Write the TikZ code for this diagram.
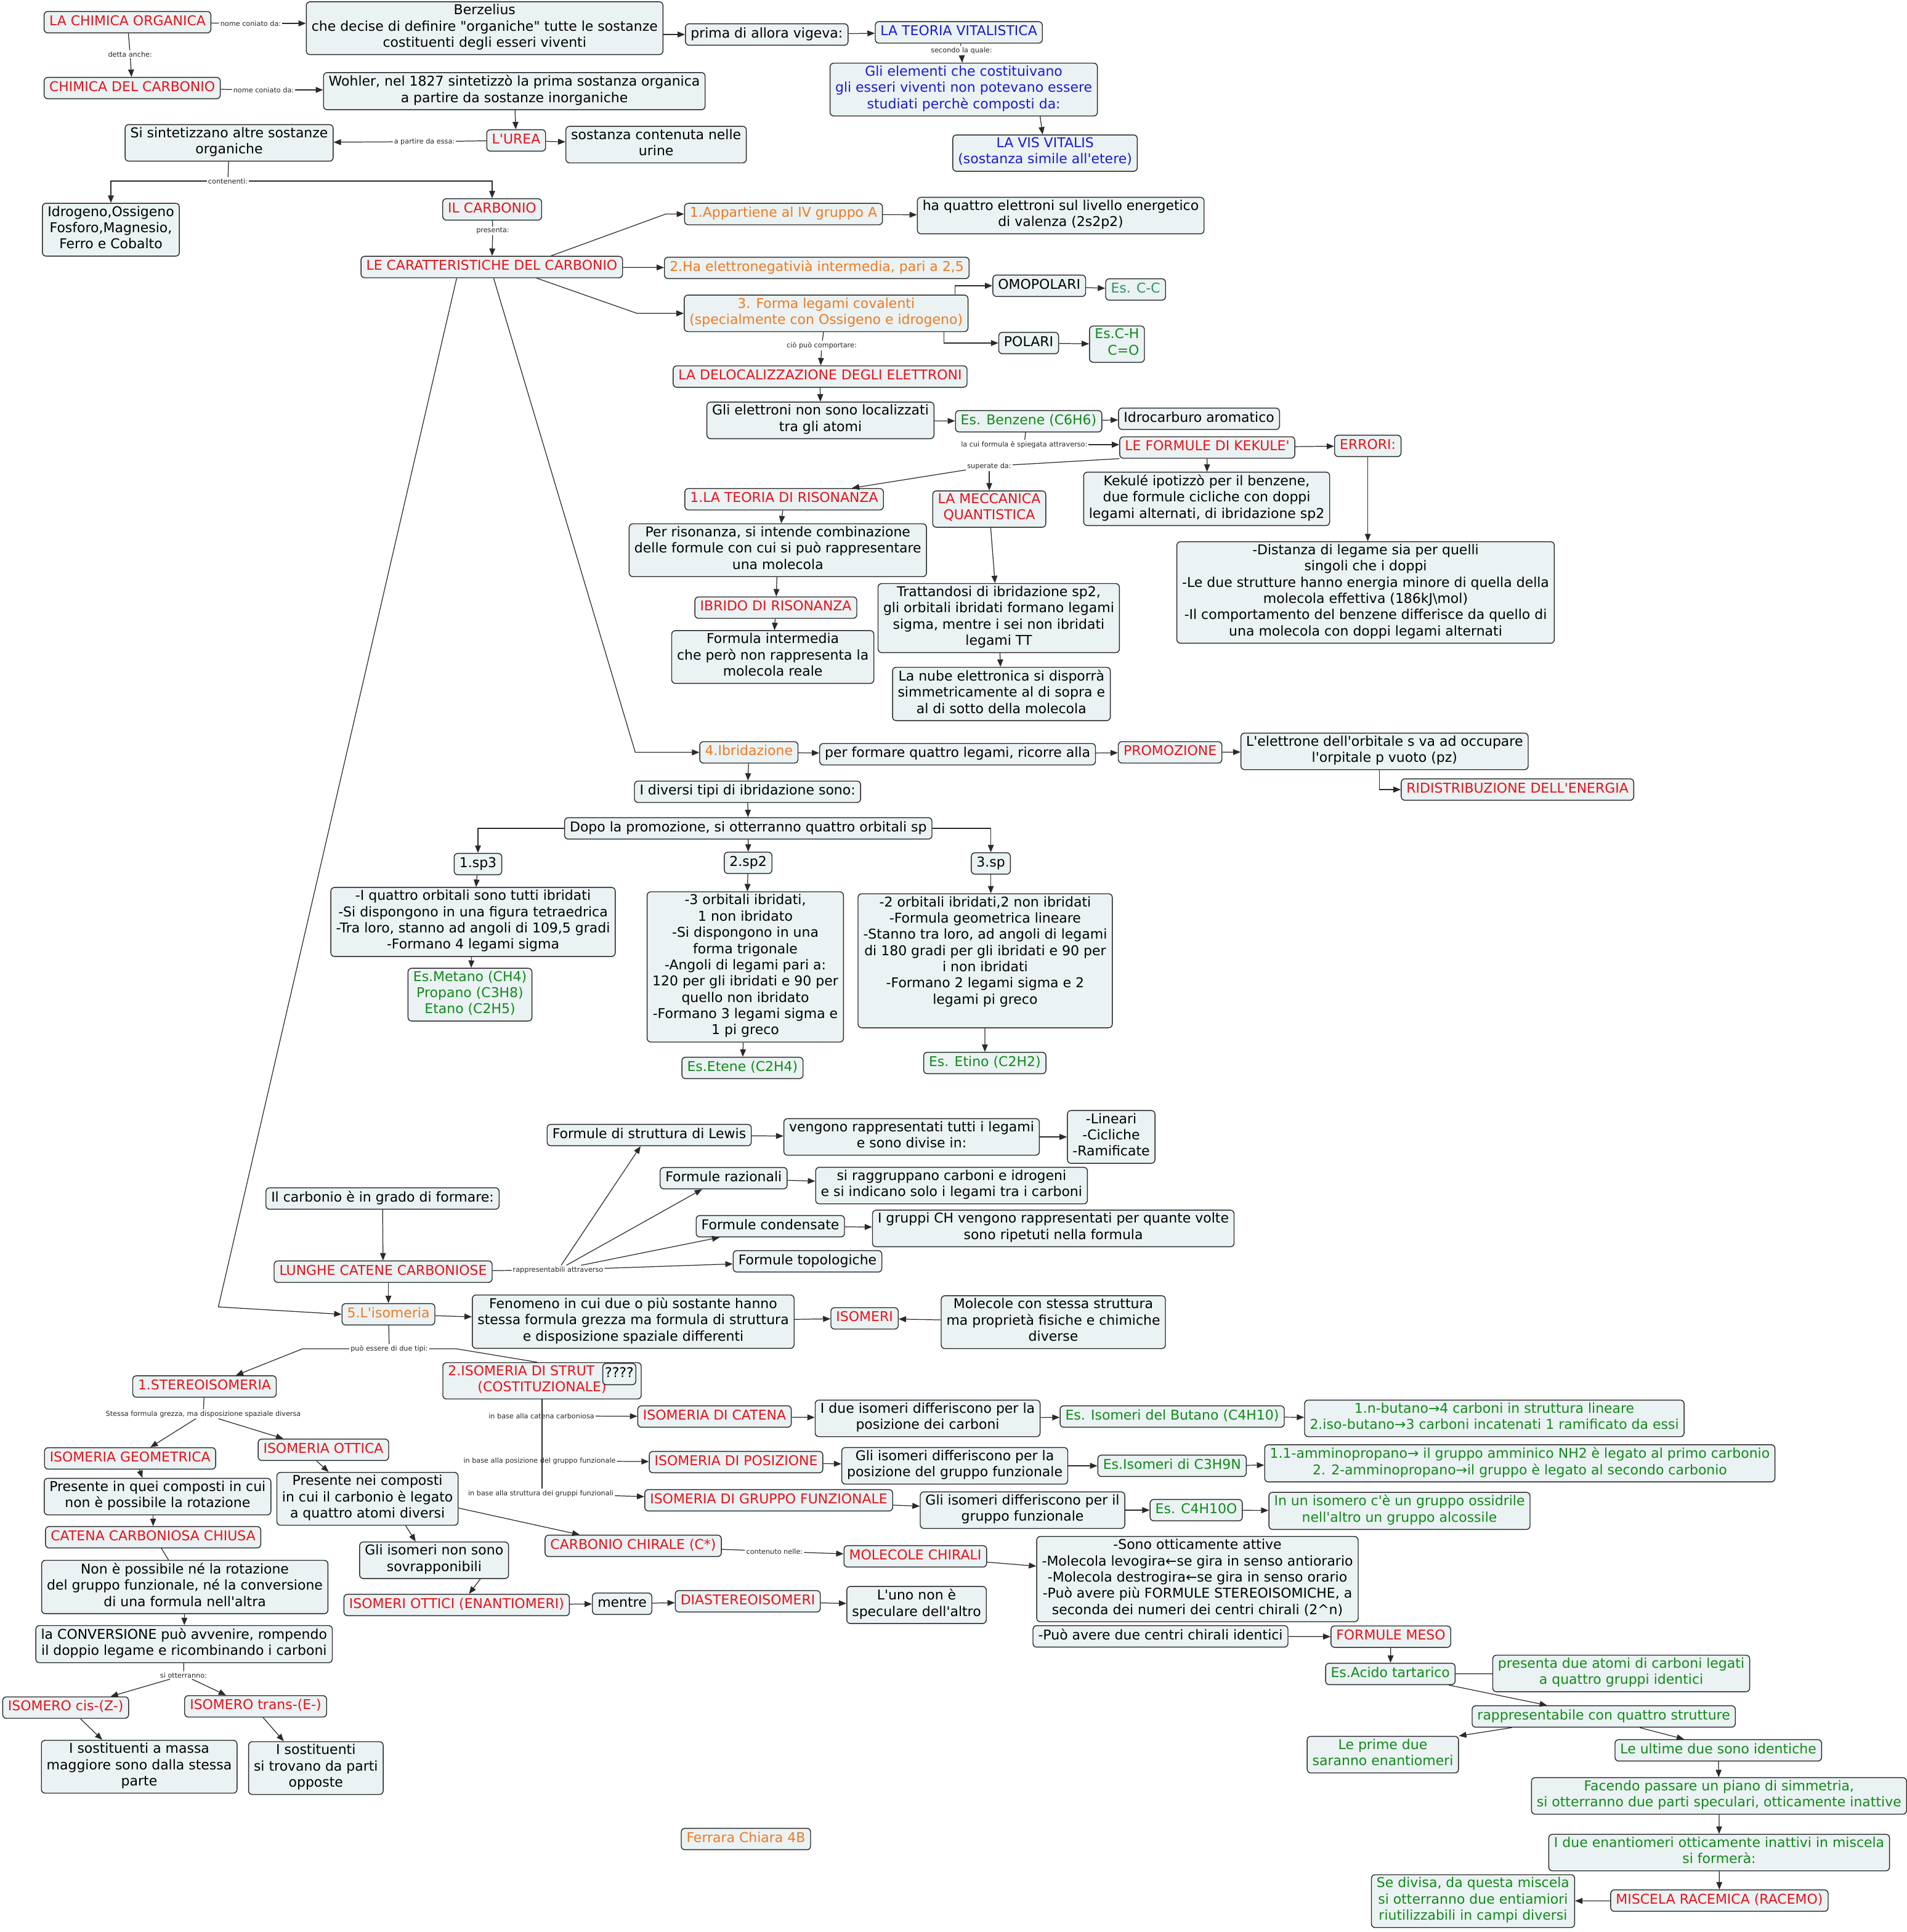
\documentclass[tikz,border=0pt]{standalone}
\usepackage{fontspec}
\setmainfont{DejaVu Sans}
\usetikzlibrary{arrows.meta}

\definecolor{cfill}{HTML}{EBF2F3}
\definecolor{cline}{HTML}{2A2A2A}
\definecolor{cred}{HTML}{E8121A}
\definecolor{corange}{HTML}{EE7A22}
\definecolor{cblue}{HTML}{1A1AD2}
\definecolor{cgreen}{HTML}{118A1A}
\definecolor{cteal}{HTML}{2E9462}
\newcommand*{\apo}{\textquotesingle}

\begin{document}
\begin{tikzpicture}[
  x=0.04cm, y=-0.04cm,
  >={Triangle[length=2.4mm, width=1.9mm]},
  box/.style={draw=cline, fill=cfill, line width=0.8pt, rounded corners=1.2mm,
    align=center, inner xsep=0.17cm, inner ysep=2.4pt,
    font=\fontsize{12.5}{15}\selectfont,
    execute at begin node=\strut, execute at end node=\strut},
  rbox/.style={box, text=cred},
  obox/.style={box, text=corange},
  bbox/.style={box, text=cblue},
  gbox/.style={box, text=cgreen},
  lbl/.style={font=\fontsize{6.4}{7.5}\selectfont, text=black!85, inner sep=1pt},
  cn/.style={draw=cline, line width=0.7pt},
  arr/.style={cn, ->},
  ]
  \useasboundingbox (0,0) rectangle (1547.5,1568.5);

  % origini della chimica organica
  \node[rbox] (chimorg) at (103.5,18) {LA CHIMICA ORGANICA};
  \node[box] (berz) at (393.4,22.9) {Berzelius\\che decise di definire \textquotedbl organiche\textquotedbl{} tutte le sostanze\\costituenti degli esseri viventi};
  \node[box] (prima) at (622.4,28) {prima di allora vigeva:};
  \node[bbox] (teoria) at (778.3,26.3) {LA TEORIA VITALISTICA};
  \node[bbox] (elementi) at (782.3,72.7) {Gli elementi che costituivano\\gli esseri viventi non potevano essere\\studiati perchè composti da:};
  \node[bbox] (vis) at (848.3,124.3) {LA VIS VITALIS\\(sostanza simile all\apo etere)};
  \node[rbox] (chimcarb) at (107.3,71.5) {CHIMICA DEL CARBONIO};
  \node[box] (wohler) at (417.5,74) {Wohler, nel 1827 sintetizzò la prima sostanza organica\\a partire da sostanze inorganiche};
  \node[rbox] (urea) at (419,114) {L\apo UREA};
  \node[box] (urine) at (532.6,117.4) {sostanza contenuta nelle\\urine};
  \node[box] (sintet) at (186,116) {Si sintetizzano altre sostanze\\organiche};
  \node[box] (idrog) at (90,186.5) {Idrogeno,Ossigeno\\Fosforo,Magnesio,\\Ferro e Cobalto};
  \node[rbox] (ilcarb) at (399.5,170) {IL CARBONIO};
  \node[rbox] (caratt) at (399.2,216.8) {LE CARATTERISTICHE DEL CARBONIO};

  % caratteristiche del carbonio
  \node[obox] (app) at (636,173.8) {1.Appartiene al IV gruppo A};
  \node[box] (quattro) at (861,175) {ha quattro elettroni sul livello energetico\\di valenza (2s2p2)};
  \node[obox] (elettroneg) at (663,217.5) {2.Ha elettronegativià intermedia, pari a 2,5};
  \node[obox] (forma) at (670.6,254.4) {3. Forma legami covalenti\\(specialmente con Ossigeno e idrogeno)};
  \node[box] (omop) at (843.6,232) {OMOPOLARI};
  \node[box, text=cteal] (escc) at (921.8,235) {Es. C-C};
  \node[box] (polari) at (835,278.5) {POLARI};
  \node[gbox, align=right] (esch) at (906.7,279.4) {Es.C-H\\C=O};
  \node[rbox] (deloc) at (665.7,305.7) {LA DELOCALIZZAZIONE DEGLI ELETTRONI};
  \node[box] (gliel) at (666,341.3) {Gli elettroni non sono localizzati\\tra gli atomi};
  \node[gbox] (benz) at (835,342) {Es. Benzene (C6H6)};
  \node[box] (idroc) at (973.3,340) {Idrocarburo aromatico};
  \node[rbox] (kekule) at (980,363.3) {LE FORMULE DI KEKULE\apo};
  \node[rbox] (errori) at (1110.3,362) {ERRORI:};
  \node[box] (kekipot) at (979.5,405) {Kekulé ipotizzò per il benzene,\\due formule cicliche con doppi\\legami alternati, di ibridazione sp2};
  \node[box] (distanza) at (1108.5,481) {-Distanza di legame sia per quelli\\singoli che i doppi\\-Le due strutture hanno energia minore di quella della\\molecola effettiva (186kJ\textbackslash mol)\\-Il comportamento del benzene differisce da quello di\\una molecola con doppi legami alternati};
  \node[rbox] (risonanza) at (636.5,405.3) {1.LA TEORIA DI RISONANZA};
  \node[rbox] (meccanica) at (803,413.3) {LA MECCANICA\\QUANTISTICA};
  \node[box] (perrison) at (631.4,446.7) {Per risonanza, si intende combinazione\\delle formule con cui si può rappresentare\\una molecola};
  \node[rbox] (ibrido) at (629.8,493.3) {IBRIDO DI RISONANZA};
  \node[box] (formint) at (627.3,533.4) {Formula intermedia\\che però non rappresenta la\\molecola reale};
  \node[box] (trattandosi) at (810.7,501.8) {Trattandosi di ibridazione sp2,\\gli orbitali ibridati formano legami\\sigma, mentre i sei non ibridati\\legami TT};
  \node[box] (nube) at (812.9,563.4) {La nube elettronica si disporrà\\simmetricamente al di sopra e\\al di sotto della molecola};

  % ibridazione
  \node[obox] (ibridazione) at (607.9,610.8) {4.Ibridazione};
  \node[box] (performare) at (777.3,612.3) {per formare quattro legami, ricorre alla};
  \node[rbox] (promozione) at (949.8,610.8) {PROMOZIONE};
  \node[box] (lelettrone) at (1123.9,610) {L\apo elettrone dell\apo orbitale s va ad occupare\\l\apo orpitale p vuoto (pz)};
  \node[rbox] (ridistr) at (1231.8,641) {RIDISTRIBUZIONE DELL\apo ENERGIA};
  \node[box] (diversi) at (606.8,642.8) {I diversi tipi di ibridazione sono:};
  \node[box] (dopo) at (607.4,672.5) {Dopo la promozione, si otterranno quattro orbitali sp};
  \node[box] (sp3) at (388,701.5) {1.sp3};
  \node[box] (sp2) at (607.3,700.5) {2.sp2};
  \node[box] (sp) at (804.3,701) {3.sp};
  \node[box] (sp3txt) at (384,748.5) {-I quattro orbitali sono tutti ibridati\\-Si dispongono in una figura tetraedrica\\-Tra loro, stanno ad angoli di 109,5 gradi\\-Formano 4 legami sigma};
  \node[gbox] (metano) at (381.5,807.5) {Es.Metano (CH4)\\Propano (C3H8)\\Etano (C2H5)};
  \node[box] (sp2txt) at (605,785) {-3 orbitali ibridati,\\1 non ibridato\\-Si dispongono in una\\forma trigonale\\-Angoli di legami pari a:\\120 per gli ibridati e 90 per\\quello non ibridato\\-Formano 3 legami sigma e\\1 pi greco};
  \node[gbox] (etene) at (602.7,867) {Es.Etene (C2H4)};
  \node[box] (sptxt) at (799.7,780) {-2 orbitali ibridati,2 non ibridati\\-Formula geometrica lineare\\-Stanno tra loro, ad angoli di legami\\di 180 gradi per gli ibridati e 90 per\\i non ibridati\\-Formano 2 legami sigma e 2\\legami pi greco\\ ~};
  \node[gbox] (etino) at (799.4,863) {Es. Etino (C2H2)};

  % formule e isomeria
  \node[box] (carbgrado) at (310.5,973) {Il carbonio è in grado di formare:};
  \node[rbox] (lunghe) at (311,1032.4) {LUNGHE CATENE CARBONIOSE};
  \node[box] (lewis) at (527,921.5) {Formule di struttura di Lewis};
  \node[box] (vengono) at (740,923) {vengono rappresentati tutti i legami\\e sono divise in:};
  \node[box] (lineari) at (902,923) {-Lineari\\-Cicliche\\-Ramificate};
  \node[box] (razionali) at (587.4,956.5) {Formule razionali};
  \node[box] (siragg) at (772.4,962.5) {si raggruppano carboni e idrogeni\\e si indicano solo i legami tra i carboni};
  \node[box] (condensate) at (625.3,995.5) {Formule condensate};
  \node[box] (gruppiCH) at (855,997.3) {I gruppi CH vengono rappresentati per quante volte\\sono ripetuti nella formula};
  \node[box] (topologiche) at (655.5,1024) {Formule topologiche};
  \node[obox] (isomeria) at (315.3,1067) {5.L\apo isomeria};
  \node[box] (fenomeno) at (514,1073) {Fenomeno in cui due o più sostante hanno\\stessa formula grezza ma formula di struttura\\e disposizione spaziale differenti};
  \node[rbox] (isomeri) at (701.8,1070.3) {ISOMERI};
  \node[box] (molecole) at (855,1073.4) {Molecole con stessa struttura\\ma proprietà fisiche e chimiche\\diverse};

  % stereoisomeria
  \node[rbox] (stereo) at (166,1125.6) {1.STEREOISOMERIA};
  \node[rbox] (geometrica) at (105.6,1184) {ISOMERIA GEOMETRICA};
  \node[rbox] (ottica) at (262.5,1177) {ISOMERIA OTTICA};
  \node[box] (presquei) at (127.9,1215) {Presente in quei composti in cui\\non è possibile la rotazione};
  \node[box] (presnei) at (298.3,1216.8) {Presente nei composti\\in cui il carbonio è legato\\a quattro atomi diversi};
  \node[rbox] (catena) at (124.3,1248) {CATENA CARBONIOSA CHIUSA};
  \node[box] (nonposs) at (150,1288.4) {Non è possibile né la rotazione\\del gruppo funzionale, né la conversione\\di una formula nell\apo altra};
  \node[box] (conversione) at (149.4,1334.8) {la CONVERSIONE può avvenire, rompendo\\il doppio legame e ricombinando i carboni};
  \node[rbox] (cis) at (53.3,1386.3) {ISOMERO cis-(Z-)};
  \node[rbox] (trans) at (207.5,1385.3) {ISOMERO trans-(E-)};
  \node[box] (massa) at (113,1434.3) {I sostituenti a massa\\maggiore sono dalla stessa\\parte};
  \node[box] (opposte) at (256.4,1435.4) {I sostituenti\\si trovano da parti\\opposte};
  \node[box] (nonsovr) at (352.4,1266.7) {Gli isomeri non sono\\sovrapponibili};
  \node[rbox] (enantiomeri) at (370.7,1303) {ISOMERI OTTICI (ENANTIOMERI)};
  \node[box] (mentre) at (505,1302) {mentre};
  \node[rbox] (diastereo) at (607,1300) {DIASTEREOISOMERI};
  \node[box] (luno) at (744,1303) {L\apo uno non è\\speculare dell\apo altro};
  \node[rbox] (chirale) at (514,1255) {CARBONIO CHIRALE (C*)};
  \node[rbox] (molchirali) at (743,1263.5) {MOLECOLE CHIRALI};
  \node[box] (sonootti) at (972,1282) {-Sono otticamente attive\\-Molecola levogira←se gira in senso antiorario\\-Molecola destrogira←se gira in senso orario\\-Può avere più FORMULE STEREOISOMICHE, a\\seconda dei numeri dei centri chirali (2\textasciicircum n)};
  \node[box] (duecentri) at (942,1328.5) {-Può avere due centri chirali identici};
  \node[rbox] (meso) at (1129,1328.7) {FORMULE MESO};
  \node[gbox] (tartarico) at (1128.6,1359) {Es.Acido tartarico};
  \node[gbox] (presenta) at (1316,1358.6) {presenta due atomi di carboni legati\\a quattro gruppi identici};
  \node[gbox] (rappr4) at (1301.8,1393.5) {rappresentabile con quattro strutture};
  \node[gbox] (primedue) at (1122.5,1424.5) {Le prime due\\saranno enantiomeri};
  \node[gbox] (ultime) at (1394.8,1421) {Le ultime due sono identiche};
  \node[gbox] (facendo) at (1395.4,1458) {Facendo passare un piano di simmetria,\\si otterranno due parti speculari, otticamente inattive};
  \node[gbox] (duenant) at (1395.5,1504) {I due enantiomeri otticamente inattivi in miscela\\si formerà:};
  \node[rbox] (racemica) at (1395.7,1543) {MISCELA RACEMICA (RACEMO)};
  \node[gbox] (sedivisa) at (1195.7,1543.4) {Se divisa, da questa miscela\\si otterranno due entiamiori\\riutilizzabili in campi diversi};

  % isomeria di struttura
  \node[rbox] (strut) at (440,1121) {\makebox[6.1cm][l]{2.ISOMERIA DI STRUT}\\(COSTITUZIONALE)};
  \node[box, inner xsep=2pt] (qq) at (502.7,1115.5) {????};
  \node[rbox] (catenaiso) at (580,1150) {ISOMERIA DI CATENA};
  \node[box] (duecat) at (753,1151.5) {I due isomeri differiscono per la\\posizione dei carboni};
  \node[gbox] (butano) at (951.5,1150) {Es. Isomeri del Butano (C4H10)};
  \node[gbox] (nbutano) at (1213,1151.5) {1.n-butano→4 carboni in struttura lineare\\2.iso-butano→3 carboni incatenati 1 ramificato da essi};
  \node[rbox] (posizione) at (597.5,1187) {ISOMERIA DI POSIZIONE};
  \node[box] (glipos) at (775,1190) {Gli isomeri differiscono per la\\posizione del gruppo funzionale};
  \node[gbox] (c3h9n) at (951.4,1190) {Es.Isomeri di C3H9N};
  \node[gbox] (ammino) at (1233.7,1188) {1.1-amminopropano→ il gruppo amminico NH2 è legato al primo carbonio\\2. 2-amminopropano→il gruppo è legato al secondo carbonio};
  \node[rbox] (funzionale) at (624,1218) {ISOMERIA DI GRUPPO FUNZIONALE};
  \node[box] (glifun) at (830,1226) {Gli isomeri differiscono per il\\gruppo funzionale};
  \node[gbox] (c4h10o) at (971,1226) {Es. C4H10O};
  \node[gbox] (ossidrile) at (1136,1226.6) {In un isomero c\apo è un gruppo ossidrile\\nell\apo altro un gruppo alcossile};

  \node[obox] (firma) at (605.5,1493) {Ferrara Chiara 4B};

  % etichette dei collegamenti
  \node[lbl] (lnc1) at (203.5,19) {nome coniato da:};
  \node[lbl] (lda) at (105.6,44) {detta anche:};
  \node[lbl] (lnc2) at (214,73) {nome coniato da:};
  \node[lbl] (lsec) at (780.5,41) {secondo la quale:};
  \node[lbl] (lpart) at (344.5,115) {a partire da essa:};
  \node[lbl] (lcont) at (185,147) {contenenti:};
  \node[lbl] (lpres) at (400,187.5) {presenta:};
  \node[lbl] (lcio) at (667,280.5) {ciò può comportare:};
  \node[lbl] (lkek) at (831.4,361) {la cui formula è spiegata attraverso:};
  \node[lbl] (lsup) at (803,378.5) {superate da:};
  \node[lbl] (lrap) at (453,1031) {rappresentabili attraverso};
  \node[lbl] (lpuo) at (316,1095) {può essere di due tipi:};
  \node[lbl] (lstes) at (165,1148) {Stessa formula grezza, ma disposizione spaziale diversa};
  \node[lbl] (lsiot) at (149,1360) {si otterranno:};
  \node[lbl] (lbc1) at (439.5,1149.5) {in base alla catena carboniosa};
  \node[lbl] (lbc2) at (438,1186) {in base alla posizione del gruppo funzionale};
  \node[lbl] (lbc3) at (439,1212.5) {in base alla struttura dei gruppi funzionali};
  \node[lbl] (lcnt) at (628.7,1259.5) {contenuto nelle:};

  % collegamenti in alto
  \draw[cn] (chimorg) -- (lnc1);
  \draw[arr] (lnc1) -- (lnc1 -| berz.west);
  \draw[cn] (chimorg) -- (lda);
  \draw[arr] (lda) -- (chimcarb);
  \draw[cn] (chimcarb) -- (lnc2);
  \draw[arr] (lnc2) -- (lnc2 -| wohler.west);
  \draw[arr] (prima.west -| berz.east) -- (prima);
  \draw[arr] (prima) -- (teoria);
  \draw[cn] (teoria) -- (lsec);
  \draw[arr] (lsec) -- (elementi);
  \draw[arr] ([xshift=2.48cm]elementi.south) -- (vis);
  \draw[arr] (wohler) -- (urea);
  \draw[arr] (urea) -- (urine);
  \draw[cn] (urea) -- (lpart);
  \draw[arr] (lpart) -- (sintet);
  \draw[cn] (sintet) -- (lcont);
  \draw[arr] (lcont) -| (idrog);
  \draw[arr] (lcont) -| (ilcarb);
  \draw[cn] (ilcarb) -- (lpres);
  \draw[arr] (lpres) -- (caratt);

  % collegamenti delle caratteristiche
  \draw[arr] ([xshift=1.92cm]caratt.north) -- ([xshift=-0.6cm]app.west) -- (app.west);
  \draw[arr] (app) -- (quattro);
  \draw[arr] (caratt) -- (elettroneg);
  \draw[arr] ([xshift=1.46cm]caratt.south) -- ([xshift=-1.52cm]forma.west) -- (forma.west);
  \draw[arr] ([xshift=0.06cm]caratt.south) -- ([xshift=-2.08cm]ibridazione.west) -- (ibridazione.west);
  \draw[arr] ([xshift=-1.14cm]caratt.south) -- ([xshift=-4cm,yshift=0.24cm]isomeria.west) -- (isomeria.west);
  \draw[arr] ([xshift=-0.44cm]forma.north east) |- (omop.west);
  \draw[arr] (omop) -- (escc);
  \draw[arr] ([xshift=-0.8cm]forma.south east) |- (polari.west);
  \draw[arr] (polari) -- (esch);
  \draw[cn] (forma) -- (lcio);
  \draw[arr] (lcio) -- (deloc);
  \draw[arr] (deloc) -- (gliel);
  \draw[arr] (gliel) -- (benz);
  \draw[arr] (benz) -- (idroc);
  \draw[cn] ([xshift=-0.1cm]benz.south) -- (lkek);
  \draw[arr] (lkek) -- (lkek -| kekule.west);
  \draw[arr] (kekule) -- (errori);
  \draw[arr] (kekule) -- (kekipot);
  \draw[arr] (errori) -- (errori |- distanza.north);
  \draw[cn] (kekule.south west) -- (lsup);
  \draw[arr] (lsup) -- ([xshift=2.2cm]risonanza.north);
  \draw[arr] (lsup) -- (meccanica);
  \draw[arr] (risonanza) -- (perrison);
  \draw[arr] (perrison) -- (ibrido);
  \draw[arr] (ibrido) -- (formint);
  \draw[arr] (meccanica) -- ([xshift=-0.12cm]trattandosi.north);
  \draw[arr] (trattandosi) -- (nube);

  % collegamenti dell'ibridazione
  \draw[arr] (ibridazione) -- (performare);
  \draw[arr] (performare) -- (promozione);
  \draw[arr] (promozione) -- (lelettrone);
  \draw[arr] ([xshift=-0.16cm]lelettrone.south) |- (ridistr.west);
  \draw[arr] (ibridazione) -- (diversi);
  \draw[arr] (diversi) -- (dopo);
  \draw[arr] (dopo) -| (sp3);
  \draw[arr] (dopo) -- (sp2);
  \draw[arr] (dopo) -| (sp);
  \draw[arr] (sp3) -- (sp3txt);
  \draw[arr] (sp3txt) -- (metano);
  \draw[arr] (sp2) -- (sp2txt);
  \draw[arr] (sp2txt) -- (etene);
  \draw[arr] (sp) -- (sp |- sptxt.north);
  \draw[arr] (sptxt) -- (etino);

  % collegamenti delle formule
  \draw[arr] (carbgrado) -- (lunghe);
  \draw[cn] (lunghe) -- (lrap);
  \draw[arr] (lrap) -- ([xshift=-0.28cm]lewis.south);
  \draw[arr] (lrap) -- ([xshift=-0.7cm]razionali.south);
  \draw[arr] (lrap) -- ([xshift=-1.65cm]condensate.south);
  \draw[arr] (lrap) -- (topologiche);
  \draw[arr] (lewis) -- (vengono);
  \draw[arr] (vengono) -- (lineari);
  \draw[arr] (razionali) -- (siragg);
  \draw[arr] (condensate) -- (gruppiCH);
  \draw[arr] (lunghe.south -| isomeria) -- (isomeria);
  \draw[arr] (isomeria) -- (fenomeno);
  \draw[arr] (fenomeno) -- (isomeri);
  \draw[arr] (molecole) -- (isomeri);
  \draw[cn] (isomeria) -- (lpuo);
  \draw[arr] (lpuo.west) -- ++(-38,0) -- ([xshift=1.02cm]stereo.north);
  \draw[cn] (lpuo.east) -- ++(22,0) -- ([xshift=-0.16cm]strut.north);

  % collegamenti della stereoisomeria
  \draw[cn] (stereo) -- (lstes);
  \draw[arr] (lstes) -- ([xshift=0.66cm]geometrica.north);
  \draw[arr] (lstes) -- ([xshift=-1.3cm]ottica.north);
  \draw[arr] ([xshift=0.3cm]geometrica.south) -- ([xshift=-0.49cm]presquei.north);
  \draw[arr] (catena.north |- presquei.south) -- (catena);
  \draw[cn] ([xshift=0.27cm]catena.south) -- ([xshift=-0.53cm]nonposs.north);
  \draw[arr] (nonposs) -- (conversione);
  \draw[cn] (conversione) -- (lsiot);
  \draw[arr] (lsiot) -- ([xshift=1.46cm]cis.north);
  \draw[arr] (lsiot) -- ([xshift=-0.96cm]trans.north);
  \draw[arr] ([xshift=0.48cm]cis.south) -- ([xshift=-1.2cm]massa.north);
  \draw[arr] ([xshift=0.24cm]trans.south) -- ([xshift=-1.04cm]opposte.north);
  \draw[arr] ([xshift=-0.22cm]ottica.south) -- ([xshift=-1.26cm]presnei.north);
  \draw[arr] ([xshift=1.24cm]presnei.south) -- ([xshift=-0.6cm]nonsovr.north);
  \draw[arr] ([yshift=-0.3cm]presnei.east) -- ([xshift=-1.74cm]chirale.north);
  \draw[arr] ([xshift=1.5cm]nonsovr.south) -- ([xshift=0.4cm]enantiomeri.north);
  \draw[arr] (enantiomeri) -- (mentre);
  \draw[arr] (mentre) -- (diastereo);
  \draw[arr] (diastereo) -- (luno);
  \draw[cn] (chirale) -- (lcnt);
  \draw[arr] (lcnt) -- (molchirali);
  \draw[arr] (molchirali) -- (sonootti);
  \draw[arr] (duecentri) -- (meso);
  \draw[arr] (meso) -- (tartarico);
  \draw[cn] (tartarico) -- (presenta);
  \draw[arr] ([xshift=1.9cm]tartarico.south) -- ([xshift=-1.84cm]rappr4.north);
  \draw[arr] ([xshift=-2.98cm]rappr4.south) -- (primedue.north east);
  \draw[arr] ([xshift=1.17cm]rappr4.south) -- ([xshift=-1.11cm]ultime.north);
  \draw[arr] (ultime) -- (facendo);
  \draw[arr] (facendo) -- (duenant);
  \draw[arr] (duenant) -- (racemica);
  \draw[arr] (racemica) -- (sedivisa);

  % collegamenti dell'isomeria di struttura
  \draw[cn] (strut.south) -- (strut.south |- lbc3.north);
  \draw[arr] (lbc1) -- (catenaiso);
  \draw[arr] (lbc2) -- (posizione);
  \draw[arr] (lbc3) -- (funzionale);
  \draw[arr] (catenaiso) -- (duecat);
  \draw[arr] (duecat) -- (butano);
  \draw[arr] (butano) -- (nbutano);
  \draw[arr] (posizione) -- (glipos);
  \draw[arr] (glipos) -- (c3h9n);
  \draw[arr] (c3h9n) -- (ammino);
  \draw[arr] (funzionale) -- (glifun);
  \draw[arr] (glifun) -- (c4h10o);
  \draw[arr] (c4h10o) -- (ossidrile);
\end{tikzpicture}
\end{document}
